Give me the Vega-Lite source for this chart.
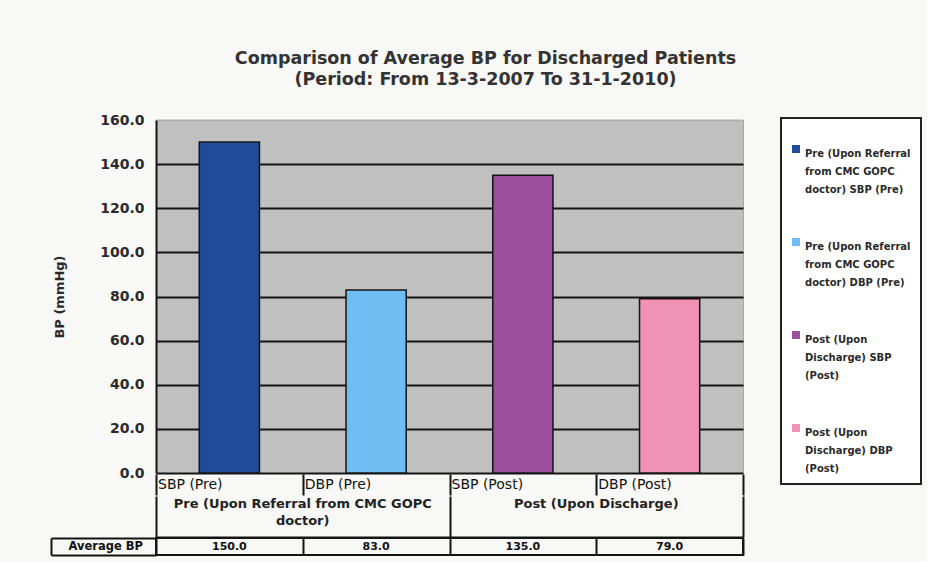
{
  "$schema": "https://vega.github.io/schema/vega-lite/v6.json",
  "background": "#f8f8f7",
  "padding": {"left": 49, "top": 50, "right": 5, "bottom": 5},
  "title": {
    "text": ["Comparison of Average BP for Discharged Patients", "(Period: From 13-3-2007 To 31-1-2010)"],
    "font": "DejaVu Sans", "fontSize": 17.5, "fontWeight": "bold", "color": "#333333",
    "lineHeight": 21, "anchor": "middle", "offset": 24
  },
  "config": {
    "font": "DejaVu Sans",
    "view": {"stroke": null},
    "legend": {"strokeWidth": 2},
    "style": {"guide-label": {"lineHeight": 18}}
  },
  "datasets": {
    "bp": [
      {"measure": "SBP (Pre)", "series": "Pre (Upon Referral from CMC GOPC doctor) SBP (Pre)", "value": 150.0},
      {"measure": "DBP (Pre)", "series": "Pre (Upon Referral from CMC GOPC doctor) DBP (Pre)", "value": 83.0},
      {"measure": "SBP (Post)", "series": "Post (Upon Discharge) SBP (Post)", "value": 135.0},
      {"measure": "DBP (Post)", "series": "Post (Upon Discharge) DBP (Post)", "value": 79.0}
    ],
    "groups": [
      {"group": "Pre (Upon Referral from CMC GOPC\ndoctor)"},
      {"group": "Post (Upon Discharge)"}
    ]
  },
  "bounds": "flush",
  "spacing": 1,
  "vconcat": [
    {
      "width": 587, "height": 353,
      "data": {"name": "bp"},
      "view": {"fill": "#c0c0c0", "stroke": "#a5a5a5", "strokeWidth": 1},
      "mark": {"type": "bar", "stroke": "#141414", "strokeWidth": 1.5},
      "encoding": {
        "x": {"field": "measure", "type": "nominal", "sort": null,
              "scale": {"paddingInner": 0.59, "paddingOuter": 0.295}, "axis": null},
        "y": {"field": "value", "type": "quantitative",
              "scale": {"domain": [0, 160], "nice": false},
              "axis": {
                "title": "BP (mmHg)", "values": [0, 20, 40, 60, 80, 100, 120, 140, 160], "format": ".1f",
                "grid": true,
                "gridColor": {"condition": {"test": "datum.value == 160", "value": "#b0b0b0"}, "value": "#141414"},
                "gridWidth": 2, "ticks": false,
                "domainColor": "#141414", "domainWidth": 2,
                "labelFontSize": 14, "labelFontWeight": "bold", "labelColor": "#2a2a2a", "labelPadding": 12,
                "minExtent": 45, "maxExtent": 45,
                "titleFontSize": 13, "titleFontWeight": "bold", "titleColor": "#2a2a2a", "titlePadding": 45
              }},
        "color": {"field": "series", "type": "nominal", "sort": null,
                  "scale": {"domain": [
                    "Pre (Upon Referral from CMC GOPC doctor) SBP (Pre)",
                    "Pre (Upon Referral from CMC GOPC doctor) DBP (Pre)",
                    "Post (Upon Discharge) SBP (Post)",
                    "Post (Upon Discharge) DBP (Post)"],
                    "range": ["#1f4c9b", "#6fbdf3", "#9c4f9c", "#f091b6"]},
                  "legend": {
                    "title": " ", "titleFontSize": 10, "titlePadding": 6,
                    "orient": "none", "legendX": 625, "legendY": -2,
                    "labelExpr": "datum.label == 'Pre (Upon Referral from CMC GOPC doctor) SBP (Pre)' ? ['Pre (Upon Referral', 'from CMC GOPC', 'doctor) SBP (Pre)'] : datum.label == 'Pre (Upon Referral from CMC GOPC doctor) DBP (Pre)' ? ['Pre (Upon Referral', 'from CMC GOPC', 'doctor) DBP (Pre)'] : datum.label == 'Post (Upon Discharge) SBP (Post)' ? ['Post (Upon', 'Discharge) SBP', '(Post)'] : ['Post (Upon', 'Discharge) DBP', '(Post)']",
                    "symbolType": "square", "symbolSize": 64, "symbolStrokeWidth": 0,
                    "labelFontSize": 10, "labelFontWeight": "bold", "labelColor": "#2a2a2a",
                    "labelLimit": 200, "labelBaseline": "top", "labelOffset": 4,
                    "rowPadding": 42, "padding": 10,
                    "strokeColor": "#222222", "fillColor": "#ffffff"
                  }}
      }
    },
    {
      "width": 587, "height": 21,
      "data": {"name": "bp"},
      "mark": {"type": "text", "align": "left", "dx": 2, "fontSize": 14, "color": "#111111"},
      "encoding": {
        "x": {"field": "measure", "type": "nominal", "sort": null, "bandPosition": 0,
              "scale": {"paddingInner": 0, "paddingOuter": 0},
              "axis": {"tickBand": "extent", "grid": true, "gridColor": "#141414", "gridWidth": 2,
                       "labels": false, "ticks": false, "domain": false, "title": null}},
        "text": {"field": "measure"}
      }
    },
    {
      "width": 587, "height": 41,
      "data": {"name": "groups"},
      "mark": {"type": "text", "lineBreak": "\n", "baseline": "top", "dy": -19, "lineHeight": 17,
               "fontSize": 13, "fontWeight": "bold", "color": "#222222"},
      "encoding": {
        "x": {"field": "group", "type": "nominal", "sort": null,
              "scale": {"paddingInner": 0, "paddingOuter": 0},
              "axis": {"tickBand": "extent", "grid": true, "gridColor": "#141414", "gridWidth": 2,
                       "labels": false, "ticks": false, "domainColor": "#141414", "domainWidth": 2, "title": null}},
        "text": {"field": "group"}
      }
    },
    {
      "width": 587, "height": 17,
      "data": {"name": "bp"},
      "view": {"stroke": "#141414", "strokeWidth": 2},
      "mark": {"type": "text", "fontSize": 11, "fontWeight": "bold", "color": "#111111"},
      "encoding": {
        "x": {"field": "measure", "type": "nominal", "sort": null,
              "scale": {"paddingInner": 0, "paddingOuter": 0},
              "axis": {"tickBand": "extent", "grid": true, "gridColor": "#141414", "gridWidth": 2,
                       "labels": false, "ticks": false, "domain": false, "title": null}},
        "y": {"datum": "Average BP", "type": "nominal",
              "scale": {"paddingInner": 0, "paddingOuter": 0},
              "axis": {"orient": "left", "offset": 105, "tickBand": "extent", "tickSize": -105,
                       "tickColor": "#141414", "tickWidth": 2, "domainColor": "#141414", "domainWidth": 2,
                       "labelAlign": "left", "labelPadding": 88, "labelFontSize": 11.5, "labelFontWeight": "bold",
                       "labelColor": "#111111", "title": null, "grid": false}},
        "text": {"field": "value", "type": "quantitative", "format": ".1f"}
      }
    }
  ]
}
